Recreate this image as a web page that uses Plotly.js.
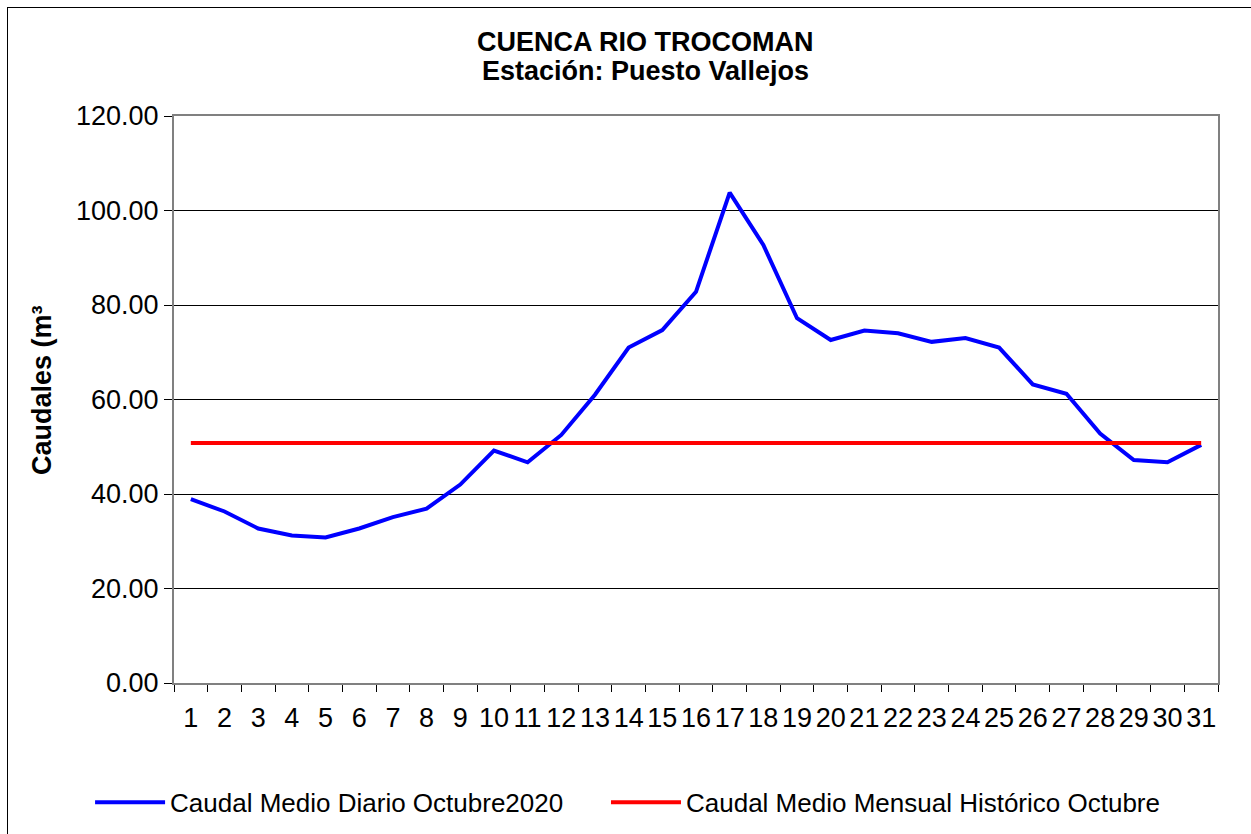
<!DOCTYPE html>
<html><head><meta charset="utf-8">
<script src="https://cdn.plot.ly/plotly-3.0.1.min.js"></script>
<style>
body{margin:0;overflow:hidden;background:#fff}
#frame{position:absolute;left:7px;top:7px;width:1300px;height:900px;border:1px solid #000;pointer-events:none;box-sizing:border-box}
</style>
</head><body>
<div id="chart" style="width:1251px;height:834px"></div>
<div id="frame"></div>
<script>
const days = ['1','2','3','4','5','6','7','8','9','10','11','12','13','14','15','16','17','18','19','20','21','22','23','24','25','26','27','28','29','30','31'];
const dailyFlow = [38.9,36.3,32.7,31.2,30.8,32.7,35.1,36.9,42.0,49.2,46.7,52.5,61.0,71.0,74.7,82.8,103.8,92.7,77.2,72.6,74.6,74.0,72.2,73.0,71.0,63.2,61.2,52.8,47.2,46.7,50.4];
const historicMean = [50.8,50.8,50.8,50.8,50.8,50.8,50.8,50.8,50.8,50.8,50.8,50.8,50.8,50.8,50.8,50.8,50.8,50.8,50.8,50.8,50.8,50.8,50.8,50.8,50.8,50.8,50.8,50.8,50.8,50.8,50.8];
const yTicks = [0,20,40,60,80,100,120];
const yTickText = ['0.00','20.00','40.00','60.00','80.00','100.00','120.00'];
const seriesNames = ['Caudal Medio Diario Octubre2020','Caudal Medio Mensual Histórico Octubre'];
const titleLines = ['CUENCA RIO TROCOMAN','Estación: Puesto Vallejos'];
const yTitle = 'Caudales (m³';

const FONT = '"Liberation Sans", Arial, sans-serif';

const traces = [
  {x: days, y: dailyFlow, type:'scatter', mode:'lines', name: seriesNames[0], line:{color:'#0000ff', width:4}, legend:'legend'},
  {x: days, y: historicMean, type:'scatter', mode:'lines', name: seriesNames[1], line:{color:'#ff0000', width:4}, legend:'legend2'}
];

const titleFont = {family:FONT, size:27, weight:'bold', color:'#000'};
const legendBase = {orientation:'h', xref:'container', yref:'container', y:0.038, xanchor:'left', yanchor:'middle',
                    font:{family:FONT, size:26, color:'#000'}, itemwidth:70, bgcolor:'rgba(0,0,0,0)'};

const layout = {
  width:1251, height:834,
  margin:{l:174, r:33, t:116, b:151},
  paper_bgcolor:'#ffffff', plot_bgcolor:'#ffffff',
  font:{family:FONT, color:'#000'},
  xaxis:{type:'category', range:[-0.5,30.5], tickson:'boundaries', ticks:'outside', ticklen:7, tickcolor:'#000', tickwidth:1,
         showline:true, linecolor:'#808080', linewidth:2, mirror:true, showgrid:false, zeroline:false, ticklabelstandoff:10,
         tickfont:{family:FONT, size:27, color:'#000'}, tickangle:0, fixedrange:true},
  yaxis:{range:[0,120], tickvals:yTicks, ticktext:yTickText, ticks:'outside', ticklen:8, tickcolor:'#000', tickwidth:1,
         showline:true, linecolor:'#808080', linewidth:2, mirror:true, showgrid:true, gridcolor:'#000', gridwidth:1, zeroline:false,
         tickfont:{family:FONT, size:27, color:'#000'}, fixedrange:true},
  showlegend:true,
  legend: Object.assign({}, legendBase, {x:0.072}),
  legend2: Object.assign({}, legendBase, {x:0.4844}),
  annotations:[
    {text:titleLines[0], xref:'paper', yref:'paper', x:0.4521, y:1.1305, xanchor:'center', yanchor:'middle', showarrow:false, font:titleFont},
    {text:titleLines[1], xref:'paper', yref:'paper', x:0.4521, y:1.0794, xanchor:'center', yanchor:'middle', showarrow:false, font:titleFont},
    {text:yTitle, textangle:-90, xref:'paper', yref:'paper', x:-0.1264, y:0.5168, xanchor:'center', yanchor:'middle',
     showarrow:false, font:titleFont}]
};

Plotly.newPlot('chart', traces, layout, {displayModeBar:false, staticPlot:true});
</script>
</body></html>
